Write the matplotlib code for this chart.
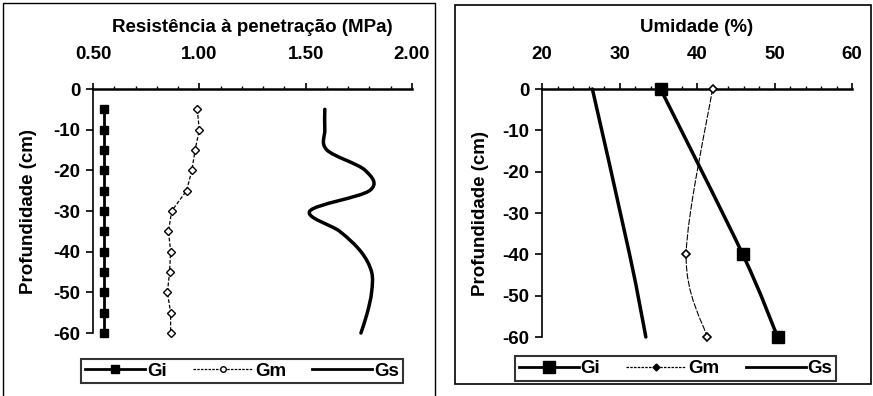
import numpy as np
import matplotlib
matplotlib.use("Agg")
import matplotlib.pyplot as plt
from matplotlib.path import Path
from matplotlib.patches import PathPatch, Rectangle
from matplotlib.lines import Line2D

plt.rcParams['font.family'] = ['Liberation Sans', 'DejaVu Sans']
plt.rcParams['font.weight'] = 'bold'

# left panel: penetration resistance (MPa)
depth_pr = [-5, -10, -15, -20, -25, -30, -35, -40, -45, -50, -55, -60]
gi_pr = [0.55, 0.55, 0.55, 0.55, 0.55, 0.55, 0.55, 0.55, 0.55, 0.55, 0.55, 0.55]
gm_pr = [0.99, 1.00, 0.98, 0.965, 0.94, 0.87, 0.855, 0.865, 0.86, 0.85, 0.865, 0.865]
gs_pr = [1.59, 1.59, 1.60, 1.78, 1.80, 1.52, 1.66, 1.76, 1.81, 1.81, 1.79, 1.76]

# right panel: moisture (%)
depth_um = [0, -40, -60]
gi_um = [35.3, 45.9, 50.4]
gm_um = [42.0, 38.6, 41.3]
gs_um = [26.5, 31.3, 33.4]

pr_ticks = [0.50, 1.00, 1.50, 2.00]
um_ticks = [20, 30, 40, 50, 60]
depth_ticks = [0, -10, -20, -30, -40, -50, -60]

FS = 13.5


def smooth_path(xs, ys):
    # Excel-style smoothed line: cubic bezier through the points
    pts = np.column_stack([xs, ys]).astype(float)
    n = len(pts)
    verts = [pts[0]]
    codes = [Path.MOVETO]
    for i in range(n - 1):
        p0 = pts[i - 1] if i > 0 else pts[i]
        p1 = pts[i]
        p2 = pts[i + 1]
        p3 = pts[i + 2] if i + 2 < n else pts[i + 1]
        c1 = p1 + (p2 - p0) / 6.0
        c2 = p2 - (p3 - p1) / 6.0
        verts += [c1, c2, p2]
        codes += [Path.CURVE4] * 3
    return Path(verts, codes)


def add_smooth(ax, xs, ys, lw, ls='-'):
    patch = PathPatch(smooth_path(xs, ys), facecolor='none', edgecolor='black',
                      lw=lw, linestyle=ls, capstyle='round', zorder=3, clip_on=False)
    ax.add_patch(patch)


def style_axes(ax, xlim, xticks, minor_step, fmt, xlabel):
    ax.set_xlim(*xlim)
    ax.set_ylim(-60, 0)
    ax.xaxis.tick_top()
    ax.xaxis.set_label_position('top')
    ax.set_xticks(xticks)
    ax.set_xticklabels([fmt.format(t) for t in xticks], fontsize=FS, fontweight='bold')
    ax.set_xticks(np.arange(xlim[0], xlim[1] + 1e-9, minor_step), minor=True)
    ax.set_yticks(depth_ticks)
    ax.set_yticklabels([str(t) for t in depth_ticks], fontsize=FS, fontweight='bold')
    ax.tick_params(axis='x', which='major', direction='out', length=4, width=1.2, pad=15)
    ax.tick_params(axis='x', which='minor', direction='out', length=2.5, width=1)
    ax.tick_params(axis='y', which='major', direction='out', length=5, width=1.2, pad=4)
    for s in ['right', 'bottom']:
        ax.spines[s].set_visible(False)
    ax.spines['top'].set_linewidth(1.8)
    ax.spines['left'].set_linewidth(1.2)
    ax.spines['left'].set_linestyle((0, (4, 1)))
    ax.set_xlabel(xlabel, fontsize=FS, fontweight='bold', labelpad=10)
    ax.patch.set_alpha(0)


fig = plt.figure(figsize=(8.73, 3.96), dpi=100)

# panel frames
fig.patches.append(Rectangle((3 / 873, -0.02), 432 / 873, 1 - 3 / 396 + 0.02,
                             transform=fig.transFigure, fill=False, lw=1, ec='black'))
fig.patches.append(Rectangle((455 / 873, 12 / 396), 416 / 873, 379 / 396,
                             transform=fig.transFigure, fill=False, lw=1.2, ec='black'))

ax1 = fig.add_axes([93 / 873, 63 / 396, 319 / 873, 244 / 396])
ax1.plot(gi_pr, depth_pr, color='black', lw=2, marker='s', ms=6, zorder=4, clip_on=False)
ax1.plot(gm_pr, depth_pr, color='black', lw=0.9, ls=(0, (3, 1.5)), marker='D', ms=3.8,
         mfc='white', mec='black', mew=1, zorder=4, clip_on=False)
add_smooth(ax1, gs_pr, depth_pr, lw=2.5)
style_axes(ax1, (0.5, 2.0), pr_ticks, 0.1, '{:.2f}', 'Resistência à penetração (MPa)')
ax1.set_ylabel('Profundidade (cm)', fontsize=FS, fontweight='bold', labelpad=12)

ax2 = fig.add_axes([542 / 873, 59 / 396, 310 / 873, 248 / 396])
add_smooth(ax2, gi_um, depth_um, lw=2.5)
ax2.plot(gi_um, depth_um, ls='none', marker='s', ms=9, color='black', zorder=4, clip_on=False)
add_smooth(ax2, gm_um, depth_um, lw=0.8, ls=(0, (5, 2)))
ax2.plot(gm_um, depth_um, ls='none', marker='D', ms=4, mfc='white', mec='black', mew=1.2,
         zorder=4, clip_on=False)
add_smooth(ax2, gs_um, depth_um, lw=2.5)
style_axes(ax2, (20, 60), um_ticks, 2, '{:d}', 'Umidade (%)')
ax2.set_ylabel('Profundidade (cm)', fontsize=FS, fontweight='bold', labelpad=10)

# legends
h1 = [Line2D([], [], color='black', lw=2, marker='s', ms=6),
      Line2D([], [], color='black', lw=0.9, ls=(0, (2, 1)), marker='o', ms=4, mfc='white'),
      Line2D([], [], color='black', lw=2)]
h2 = [Line2D([], [], color='black', lw=2, marker='s', ms=9),
      Line2D([], [], color='black', lw=0.9, ls=(0, (2, 1)), marker='D', ms=3.5),
      Line2D([], [], color='black', lw=2)]
labels = ['Gi', 'Gm', 'Gs']
for h, box in [(h1, (78, 358, 406, 384)), (h2, (519, 354, 832, 383))]:
    x0, y0, x1, y1 = box
    leg = fig.legend(h, labels, ncol=3, loc='center',
                     bbox_to_anchor=((x0 + x1) / 2 / 873, 1 - (y0 + y1) / 2 / 396),
                     prop={'size': FS, 'weight': 'bold'}, frameon=True, fancybox=False,
                     handlelength=3.2, handletextpad=0.1, columnspacing=1.4,
                     borderpad=0.2, borderaxespad=0)
    leg.get_frame().set_edgecolor('black')
    leg.get_frame().set_linewidth(1.5)

fig.savefig('out.png', dpi=100)
